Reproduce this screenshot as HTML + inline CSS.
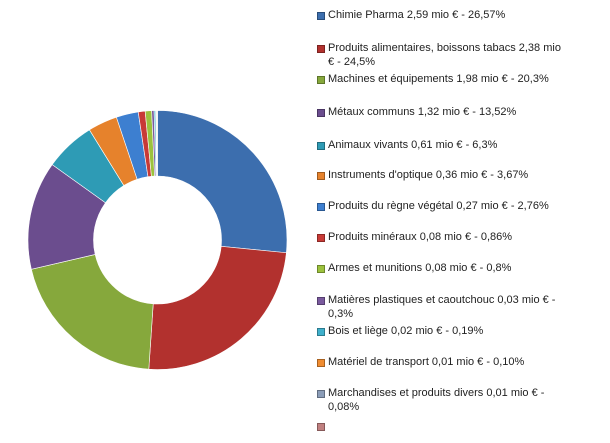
<!DOCTYPE html>
<html><head><meta charset="utf-8"><style>
body{margin:0;width:610px;height:443px;background:#fff;overflow:hidden;position:relative;font-family:"Liberation Sans",sans-serif;font-size:11px;color:#222}
.l{position:absolute;left:328px;line-height:14px;white-space:nowrap}
.m{position:absolute;left:317px;width:6px;height:6px;border:0.5px solid rgba(0,0,0,.3)}
</style></head><body>
<svg id="s" width="310" height="443" style="position:absolute;left:0;top:0"></svg>
<div id="lg"></div>
<script>
var p=[26.57,24.5,20.3,13.52,6.3,3.67,2.76,0.86,0.8,0.3,0.19,0.10,0.08,0.05];
var c=["#3c6eae","#b2312e","#86a83c","#6b4d8e","#2e9bb5","#e6822c","#3d7fd0","#c83a36","#9cc23d","#7a5a9e","#3fb0cc","#f08c30","#8b9db8","#c08080"];
var cx=157.5,cy=240,R=129.5,r=64,a=0,h="",tot=p.reduce(function(s,v){return s+v},0);
h+='<defs><radialGradient id="g" cx="50%" cy="50%" r="50%"><stop offset="49%" stop-color="#000" stop-opacity="0.15"/><stop offset="60%" stop-color="#fff" stop-opacity="0"/><stop offset="95%" stop-color="#000" stop-opacity="0"/><stop offset="100%" stop-color="#000" stop-opacity="0.15"/></radialGradient></defs>';
function pt(rad,ang){return [cx+rad*Math.sin(ang),cy-rad*Math.cos(ang)]}
for(var i=0;i<p.length;i++){var b=a+p[i]/tot*2*Math.PI,lg=(b-a)>Math.PI?1:0;
var A=pt(R,a),B=pt(R,b),C=pt(r,b),D=pt(r,a);
h+='<path d="M'+A+' A'+R+','+R+' 0 '+lg+' 1 '+B+' L'+C+' A'+r+','+r+' 0 '+lg+' 0 '+D+'Z" fill="'+c[i]+'" stroke="#fff" stroke-width="0.6"/>';a=b;}
h+='<circle cx="'+cx+'" cy="'+cy+'" r="'+((R+r)/2)+'" fill="none" stroke="url(#g)" stroke-width="0"/>';
document.getElementById('s').innerHTML=h;
var L=[[15,"Chimie Pharma 2,59 mio € - 26,57%"],[48,"Produits alimentaires, boissons tabacs 2,38 mio<br>€ - 24,5%"],[79,"Machines et équipements 1,98 mio € - 20,3%"],[112,"Métaux communs 1,32 mio € - 13,52%"],[145,"Animaux vivants 0,61 mio € - 6,3%"],[175,"Instruments d'optique 0,36 mio € - 3,67%"],[206,"Produits du règne végétal 0,27 mio € - 2,76%"],[237,"Produits minéraux 0,08 mio € - 0,86%"],[268,"Armes et munitions 0,08 mio € - 0,8%"],[300,"Matières plastiques et caoutchouc 0,03 mio € -<br>0,3%"],[331,"Bois et liège 0,02 mio € - 0,19%"],[362,"Matériel de transport 0,01 mio € - 0,10%"],[393,"Marchandises et produits divers 0,01 mio € -<br>0,08%"],[426,""]];
var mc=["#3c6eae","#b2312e","#86a83c","#6b4d8e","#2e9bb5","#e6822c","#3d7fd0","#c83a36","#9cc23d","#7a5a9e","#3fb0cc","#f08c30","#8b9db8","#c08080"];
var o="";for(var j=0;j<L.length;j++){o+='<div class="m" style="top:'+(L[j][0]-3)+'px;background:'+mc[j]+'"></div>';if(L[j][1])o+='<div class="l" style="top:'+(L[j][0]-7)+'px">'+L[j][1]+'</div>';}
document.getElementById('lg').innerHTML=o;
</script>
</body></html>
